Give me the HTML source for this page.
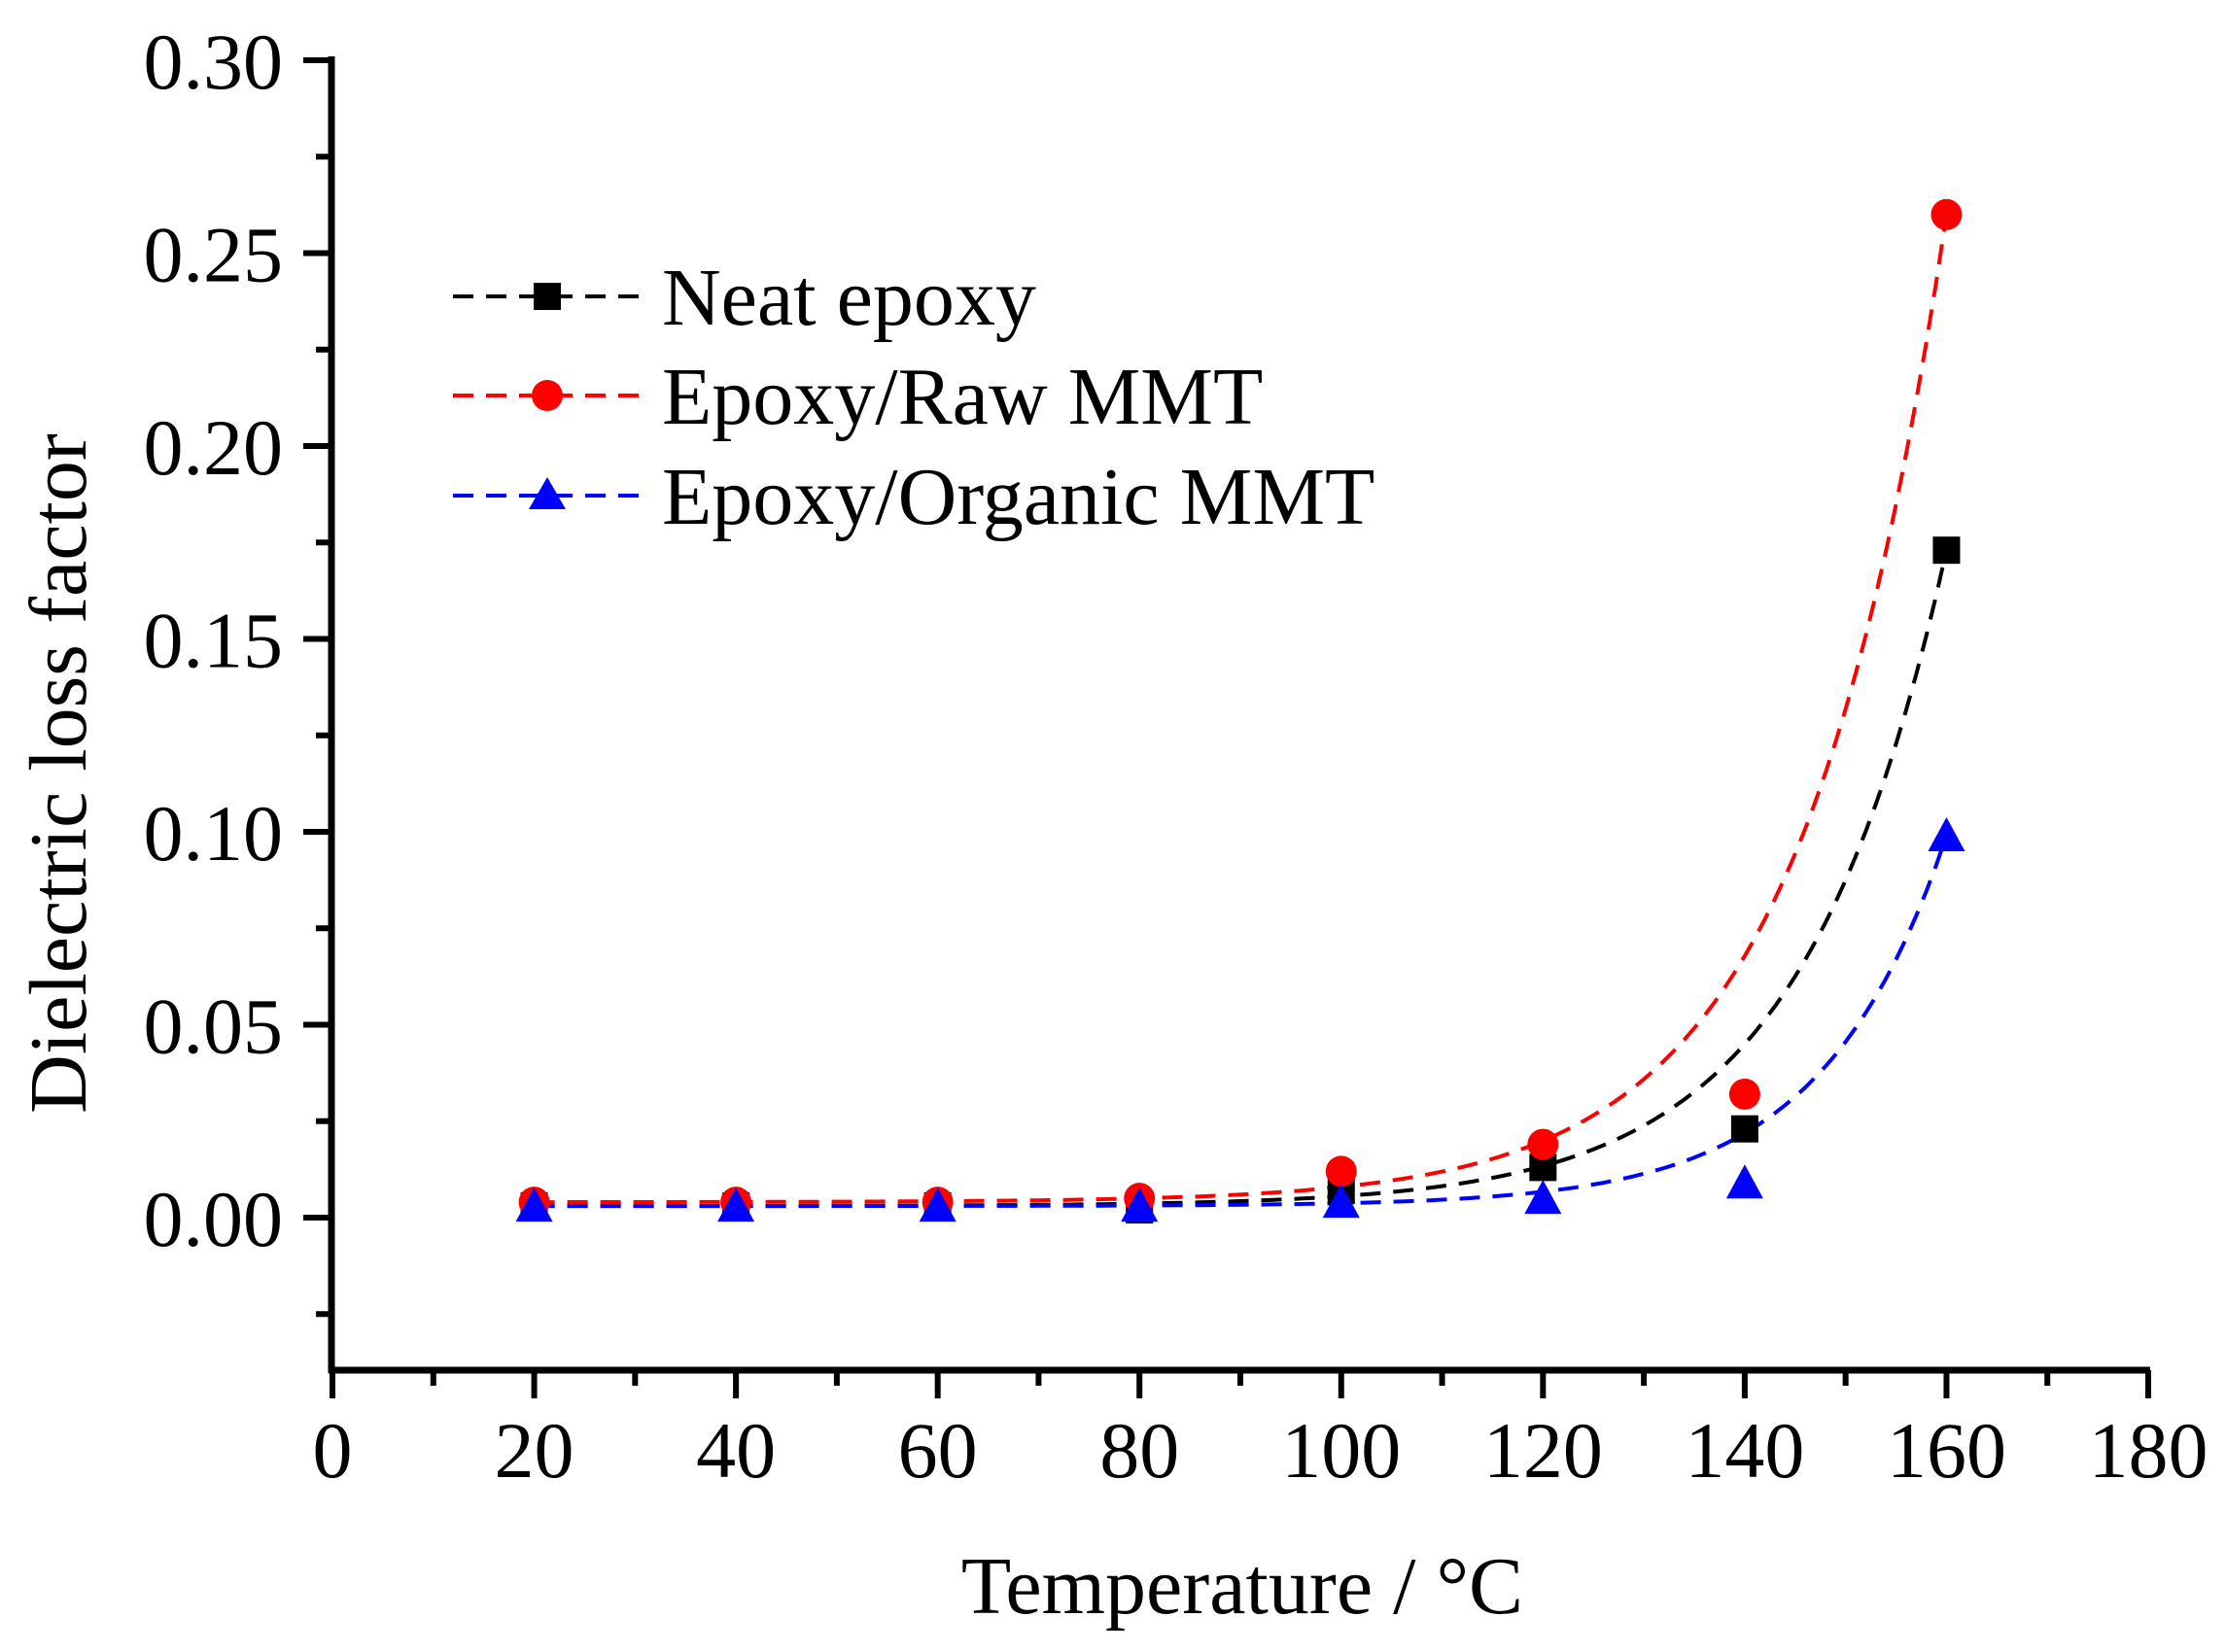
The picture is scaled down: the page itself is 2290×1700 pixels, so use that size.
<!DOCTYPE html>
<html><head><meta charset="utf-8"><style>
html,body{margin:0;padding:0;background:#fff;}
svg{display:block;}
text{font-family:"Liberation Serif",serif;fill:#000;}
</style></head><body>
<svg id="s" width="2290" height="1700" viewBox="0 0 2290 1700" xmlns="http://www.w3.org/2000/svg">
<g stroke="#000" stroke-width="7" fill="none">
<line x1="341" y1="58" x2="341" y2="1413"/>
<line x1="338" y1="1410" x2="2212" y2="1410"/>
</g>
<g id="ticks" stroke="#000" stroke-width="6"></g>
<g id="labels" font-size="82"></g>
<text x="1278" y="1660" font-size="84" text-anchor="middle">Temperature / °C</text>
<text transform="translate(88,796) rotate(-90)" font-size="84" text-anchor="middle">Dielectric loss factor</text>
<g id="curves" fill="none" stroke-width="4" stroke-dasharray="21 13"></g>
<g id="marks"></g>
<g font-size="84">
<line x1="466" y1="305" x2="665" y2="305" stroke="#000" stroke-width="4" stroke-dasharray="21 13"/>
<rect x="549" y="291" width="28" height="28" fill="#000"/>
<text x="681" y="334">Neat epoxy</text>
<line x1="466" y1="407" x2="665" y2="407" stroke="#f00" stroke-width="4" stroke-dasharray="21 13"/>
<circle cx="563" cy="407" r="16" fill="#f00"/>
<text x="681" y="436">Epoxy/Raw MMT</text>
<line x1="466" y1="510" x2="665" y2="510" stroke="#00f" stroke-width="4" stroke-dasharray="21 13"/>
<polygon points="563,491 582,524 544,524" fill="#00f"/>
<text x="681" y="539">Epoxy/Organic MMT</text>
</g>
</svg>
<script>
var NS="http://www.w3.org/2000/svg";
function X(v){return 342+v*(2210-342)/180;}
function Y(v){return 1253-v*3970;}
function el(p,t,a){var e=document.createElementNS(NS,t);for(var k in a)e.setAttribute(k,a[k]);document.getElementById(p).appendChild(e);return e;}
// y ticks
for(var i=-4;i<=30;i++){if(i%5!==0&&i%5!==0)continue;}
for(var v=-0.025;v<=0.3001;v+=0.025){var y=Y(v);var major=Math.abs(Math.round(v*1000)%50)===0;
 el("ticks","line",{x1:major?312:325,y1:y,x2:341,y2:y});
 if(major){var t=el("labels","text",{x:291,y:y+29,"text-anchor":"end"});t.textContent=v.toFixed(2).replace("-0.00","0.00");}}
for(var xv=0;xv<=180;xv+=10){var x=X(xv);var mj=xv%20===0;
 el("ticks","line",{x1:x,y1:1410,x2:x,y2:mj?1439:1426});
 if(mj){var t=el("labels","text",{x:x,y:1520,"text-anchor":"middle"});t.textContent=xv;}}
var T=[20,40,60,80,100,120,140,160];
var S=[
 {c:"#000",d:[0.003,0.003,0.003,0.002,0.007,0.013,0.023,0.173],a:0.003,b:0.170,t:14.3,m:"sq"},
 {c:"#f00",d:[0.004,0.004,0.004,0.005,0.012,0.019,0.032,0.260],a:0.004,b:0.256,t:14.4,m:"ci"},
 {c:"#00f",d:[0.003,0.003,0.003,0.003,0.004,0.005,0.009,0.099],a:0.003,b:0.096,t:12.3,m:"tr"}];
S.forEach(function(s){var p="";for(var x=20;x<=160.01;x+=1){var v=s.a+s.b*Math.exp((x-160)/s.t);p+=(x==20?"M":"L")+X(x).toFixed(1)+" "+Y(v).toFixed(1);}
 el("curves","path",{d:p,stroke:s.c});});
S.forEach(function(s){T.forEach(function(tx,i){var x=X(tx),y=Y(s.d[i]);
 if(s.m=="sq")el("marks","rect",{x:x-14,y:y-14,width:28,height:28,fill:s.c});
 else if(s.m=="ci")el("marks","circle",{cx:x,cy:y,r:16,fill:s.c});
 else el("marks","polygon",{points:x+","+(y-19)+" "+(x+19)+","+(y+16)+" "+(x-19)+","+(y+16),fill:s.c});});});
</script>
</body></html>
